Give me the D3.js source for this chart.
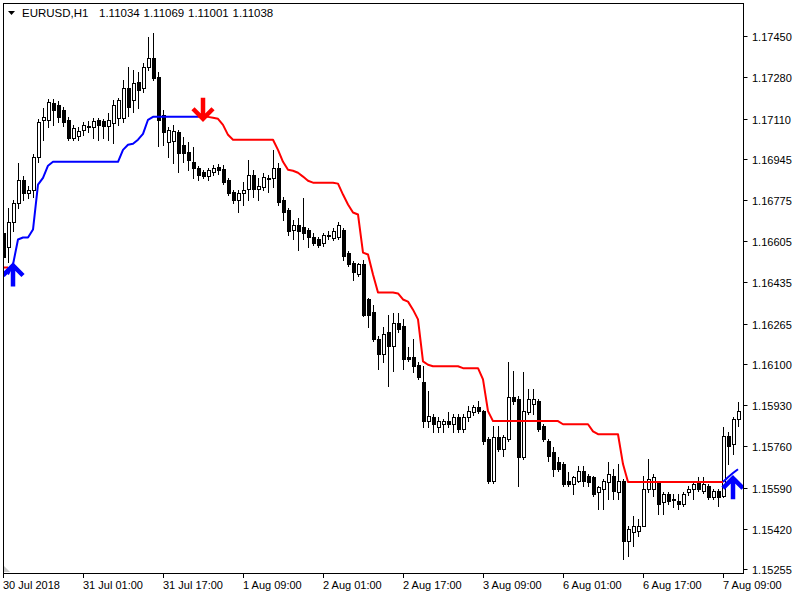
<!DOCTYPE html>
<html>
<head>
<meta charset="utf-8">
<script src="https://cdn.jsdelivr.net/npm/d3@7"></script>
<style>
  body { margin: 0; background: #fff; }
  svg { display: block; }
  text { font-family: "Liberation Sans", Arial, sans-serif; fill: #000; }
</style>
</head>
<body>
<div id="chart"></div>
<script>
// header of the chart window
const symbolName = "EURUSD,H1";
const headerPrices = ["1.11034", "1.11069", "1.11001", "1.11038"];

// hourly candles, one entry per bar (bar 0 = 30 Jul 2018)
const opens = [
  1.16640,1.16583,1.16682,1.16764,1.16858,1.16805,1.16817,1.16953,1.17105,1.17105,
  1.17175,1.17166,1.17146,1.17105,1.17031,1.17039,1.17064,1.17076,1.17076,1.17105,
  1.17101,1.17080,1.17093,1.17113,1.17113,1.17236,1.17187,1.17261,1.17236,1.17323,
  1.17360,1.17282,1.17125,1.17014,1.17018,1.17055,1.17002,1.16973,1.16932,1.16908,
  1.16891,1.16875,1.16891,1.16912,1.16903,1.16858,1.16809,1.16776,1.16805,1.16821,
  1.16879,1.16821,1.16830,1.16866,1.16866,1.16908,1.16776,1.16735,1.16653,1.16673,
  1.16665,1.16653,1.16624,1.16612,1.16599,1.16628,1.16620,1.16624,1.16653,1.16558,
  1.16517,1.16468,1.16509,1.16365,1.16315,1.16201,1.16139,1.16229,1.16172,1.16270,
  1.16254,1.16127,1.16127,1.16096,1.16024,1.15864,1.15880,1.15839,1.15851,1.15864,
  1.15851,1.15880,1.15831,1.15880,1.15901,1.15921,1.15905,1.15790,1.15617,1.15798,
  1.15749,1.15790,1.15962,1.15954,1.15716,1.15901,1.15933,1.15946,1.15843,1.15782,
  1.15736,1.15695,1.15687,1.15617,1.15604,1.15617,1.15658,1.15638,1.15633,1.15572,
  1.15584,1.15613,1.15638,1.15572,1.15617,1.15370,1.15407,1.15413,1.15432,1.15584,
  1.15584,1.15613,1.15531,1.15564,1.15543,1.15535,1.15522,1.15572,1.15584,1.15613,
  1.15576,1.15596,1.15551,1.15576,1.15555,1.15802,1.15769,1.15872
];
const highs = [
  1.16653,1.16743,1.16776,1.16928,1.16875,1.16834,1.16965,1.17109,1.17154,1.17191,
  1.17191,1.17183,1.17158,1.17117,1.17084,1.17076,1.17097,1.17101,1.17113,1.17113,
  1.17109,1.17134,1.17187,1.17195,1.17269,1.17323,1.17310,1.17302,1.17339,1.17446,
  1.17462,1.17302,1.17146,1.17076,1.17084,1.17064,1.17035,1.17014,1.16994,1.16916,
  1.16899,1.16908,1.16920,1.16924,1.16920,1.16866,1.16817,1.16817,1.16850,1.16940,
  1.16899,1.16866,1.16887,1.16879,1.16981,1.16928,1.16788,1.16743,1.16694,1.16702,
  1.16784,1.16661,1.16640,1.16624,1.16640,1.16645,1.16661,1.16682,1.16661,1.16566,
  1.16525,1.16517,1.16529,1.16373,1.16344,1.16213,1.16250,1.16303,1.16311,1.16311,
  1.16283,1.16168,1.16201,1.16106,1.16090,1.15987,1.15892,1.15880,1.15872,1.15901,
  1.15892,1.15892,1.15892,1.15925,1.15929,1.15946,1.15909,1.15798,1.15843,1.15843,
  1.15806,1.16106,1.16069,1.15966,1.16065,1.15995,1.15995,1.15954,1.15851,1.15790,
  1.15757,1.15716,1.15695,1.15654,1.15638,1.15679,1.15679,1.15646,1.15638,1.15596,
  1.15625,1.15695,1.15666,1.15687,1.15625,1.15432,1.15473,1.15461,1.15638,1.15707,
  1.15646,1.15617,1.15572,1.15572,1.15564,1.15564,1.15572,1.15596,1.15613,1.15633,
  1.15633,1.15604,1.15584,1.15584,1.15839,1.15818,1.15880,1.15942
];
const lows = [
  1.16521,1.16521,1.16645,1.16743,1.16776,1.16784,1.16788,1.16932,1.17023,1.17076,
  1.17084,1.17097,1.17080,1.17023,1.17023,1.17023,1.17043,1.17055,1.17031,1.17023,
  1.17031,1.17023,1.17010,1.17084,1.17097,1.17121,1.17138,1.17154,1.17220,1.17310,
  1.17269,1.16998,1.17002,1.16953,1.16928,1.16891,1.16932,1.16899,1.16866,1.16858,
  1.16866,1.16858,1.16879,1.16883,1.16842,1.16797,1.16764,1.16727,1.16756,1.16776,
  1.16788,1.16776,1.16817,1.16809,1.16830,1.16756,1.16694,1.16632,1.16612,1.16570,
  1.16612,1.16583,1.16591,1.16583,1.16587,1.16612,1.16608,1.16612,1.16529,1.16501,
  1.16447,1.16460,1.16295,1.16250,1.16192,1.16077,1.16106,1.16007,1.16069,1.16229,
  1.16077,1.16110,1.16065,1.16036,1.15839,1.15839,1.15818,1.15818,1.15818,1.15839,
  1.15818,1.15818,1.15818,1.15864,1.15888,1.15897,1.15769,1.15609,1.15609,1.15740,
  1.15720,1.15782,1.15933,1.15596,1.15707,1.15892,1.15892,1.15822,1.15782,1.15699,
  1.15638,1.15658,1.15596,1.15596,1.15564,1.15613,1.15596,1.15596,1.15555,1.15502,
  1.15502,1.15543,1.15543,1.15543,1.15296,1.15309,1.15350,1.15391,1.15432,1.15572,
  1.15555,1.15481,1.15481,1.15522,1.15510,1.15502,1.15514,1.15559,1.15543,1.15576,
  1.15568,1.15543,1.15543,1.15514,1.15551,1.15687,1.15728,1.15843
];
const closes = [
  1.16538,1.16686,1.16764,1.16858,1.16805,1.16817,1.16953,1.17097,1.17117,1.17179,
  1.17146,1.17117,1.17097,1.17031,1.17072,1.17060,1.17084,1.17080,1.17101,1.17084,
  1.17080,1.17105,1.17166,1.17187,1.17236,1.17158,1.17257,1.17228,1.17323,1.17360,
  1.17277,1.17105,1.17055,1.17064,1.17060,1.16969,1.16969,1.16940,1.16908,1.16879,
  1.16875,1.16899,1.16908,1.16899,1.16850,1.16805,1.16776,1.16805,1.16817,1.16879,
  1.16821,1.16834,1.16871,1.16862,1.16908,1.16768,1.16727,1.16645,1.16673,1.16645,
  1.16640,1.16624,1.16599,1.16591,1.16632,1.16632,1.16645,1.16673,1.16542,1.16509,
  1.16478,1.16509,1.16303,1.16303,1.16201,1.16139,1.16221,1.16172,1.16270,1.16242,
  1.16118,1.16118,1.16090,1.16044,1.15864,1.15884,1.15851,1.15864,1.15864,1.15851,
  1.15880,1.15831,1.15880,1.15905,1.15921,1.15905,1.15782,1.15617,1.15798,1.15749,
  1.15798,1.15962,1.15946,1.15716,1.15905,1.15954,1.15954,1.15831,1.15790,1.15720,
  1.15666,1.15666,1.15604,1.15604,1.15633,1.15658,1.15617,1.15613,1.15564,1.15592,
  1.15617,1.15646,1.15576,1.15617,1.15370,1.15420,1.15432,1.15432,1.15584,1.15625,
  1.15633,1.15522,1.15564,1.15535,1.15539,1.15522,1.15564,1.15584,1.15604,1.15584,
  1.15604,1.15551,1.15576,1.15551,1.15802,1.15761,1.15872,1.15905
];

// trailing stop buffers (null = no value on that bar)
const upStop = [
  null,1.16468,1.16509,1.16612,1.16620,1.16620,1.16653,1.16838,1.16866,1.16916,
  1.16932,1.16932,1.16932,1.16932,1.16932,1.16932,1.16932,1.16932,1.16932,1.16932,
  1.16932,1.16932,1.16932,1.16932,1.16981,1.17002,1.17006,1.17023,1.17047,1.17105,
  1.17117,1.17117,1.17117,1.17117,1.17117,1.17117,1.17117,1.17117,1.17117,1.17117,
  null,null,null,null,null,null,null,null,null,null,
  null,null,null,null,null,null,null,null,null,null,
  null,null,null,null,null,null,null,null,null,null,
  null,null,null,null,null,null,null,null,null,null,
  null,null,null,null,null,null,null,null,null,null,
  null,null,null,null,null,null,null,null,null,null,
  null,null,null,null,null,null,null,null,null,null,
  null,null,null,null,null,null,null,null,null,null,
  null,null,null,null,null,null,null,null,null,null,
  null,null,null,null,null,null,null,null,null,null,
  null,null,null,null,1.15613,1.15633,1.15650,1.15666
];
const downStop = [
  1.16497,1.16497,null,null,null,null,null,null,null,null,
  null,null,null,null,null,null,null,null,null,null,
  null,null,null,null,null,null,null,null,null,null,
  null,null,null,null,null,null,null,null,null,1.17117,
  1.17117,1.17117,1.17113,1.17109,1.17084,1.17043,1.17023,1.17023,1.17023,1.17023,
  1.17023,1.17023,1.17023,1.17023,1.17023,1.16981,1.16932,1.16899,1.16895,1.16887,
  1.16871,1.16854,1.16846,1.16846,1.16846,1.16846,1.16846,1.16842,1.16797,1.16756,
  1.16723,1.16715,1.16558,1.16550,1.16468,1.16394,1.16394,1.16394,1.16394,1.16390,
  1.16365,1.16356,1.16323,1.16283,1.16110,1.16096,1.16090,1.16090,1.16090,1.16090,
  1.16090,1.16090,1.16082,1.16082,1.16082,1.16082,1.16036,1.15905,1.15864,1.15864,
  1.15864,1.15864,1.15864,1.15864,1.15864,1.15864,1.15864,1.15864,1.15864,1.15864,
  1.15864,1.15864,1.15851,1.15851,1.15851,1.15851,1.15851,1.15851,1.15822,1.15810,
  1.15810,1.15810,1.15810,1.15810,1.15687,1.15613,1.15613,1.15613,1.15613,1.15613,
  1.15613,1.15613,1.15613,1.15613,1.15613,1.15613,1.15613,1.15613,1.15613,1.15613,
  1.15613,1.15613,1.15613,1.15613,1.15613,null,null,null
];

// trend change arrows
const arrowBars = [2, 40, 146];
const arrowPrices = [1.16509, 1.17105, 1.15633];
const arrowDirs = ["up", "down", "up"];

// axes
const priceTicks = ["1.17450","1.17280","1.17110","1.16945","1.16775","1.16605","1.16435",
  "1.16265","1.16100","1.15930","1.15760","1.15590","1.15420","1.15255"];
const timeTickBars = [0, 16, 32, 48, 64, 80, 96, 112, 128, 144];
const timeTickLabels = ["30 Jul 2018","31 Jul 01:00","31 Jul 17:00","1 Aug 09:00","2 Aug 01:00",
  "2 Aug 17:00","3 Aug 09:00","6 Aug 01:00","6 Aug 17:00","7 Aug 09:00"];

const width = 800;
const height = 600;
const frame = { left: 3, top: 3, right: 743, bottom: 573 };

const svg = d3
  .select("#chart")
  .append("svg")
  .attr("width", width)
  .attr("height", height);

svg.append("rect").attr("width", width).attr("height", height).attr("fill", "#fff");

const x = d3.scaleLinear().domain([0, opens.length - 1]).range([3, 738]);
const y = d3
  .scaleLinear()
  .domain([+priceTicks[priceTicks.length - 1], +priceTicks[0]])
  .range([569, 36]);

svg
  .append("clipPath")
  .attr("id", "plot-clip")
  .append("rect")
  .attr("x", frame.left + 1)
  .attr("y", frame.top + 1)
  .attr("width", frame.right - frame.left - 1)
  .attr("height", frame.bottom - frame.top - 1);

const plot = svg.append("g").attr("clip-path", "url(#plot-clip)");

// candles
const bars = d3.range(opens.length);
const px = (i) => Math.round(x(i));
const py = (v) => Math.round(y(v));

const candles = plot
  .append("g")
  .attr("shape-rendering", "crispEdges")
  .selectAll("g")
  .data(bars)
  .join("g");

candles
  .append("line")
  .attr("x1", (i) => px(i) + 0.5)
  .attr("x2", (i) => px(i) + 0.5)
  .attr("y1", (i) => py(highs[i]))
  .attr("y2", (i) => py(lows[i]) + 1)
  .attr("stroke", "#000");

candles
  .append("rect")
  .attr("x", (i) => px(i) - 0.5)
  .attr("width", 3)
  .attr("y", (i) => py(Math.max(opens[i], closes[i])) + 0.5)
  .attr("height", (i) =>
    Math.max(1, py(Math.min(opens[i], closes[i])) - py(Math.max(opens[i], closes[i])))
  )
  .attr("fill", (i) => (closes[i] >= opens[i] ? "#fff" : "#000"))
  .attr("stroke", "#000");

// trailing stop lines
const stopLine = d3
  .line()
  .defined((d) => d != null)
  .x((d, i) => x(i))
  .y((d) => y(d));

plot
  .append("path")
  .attr("d", stopLine(downStop))
  .attr("fill", "none")
  .attr("stroke", "#ff0000")
  .attr("stroke-width", 2)
  .attr("stroke-linejoin", "round");

plot
  .append("path")
  .attr("d", stopLine(upStop))
  .attr("fill", "none")
  .attr("stroke", "#0000ff")
  .attr("stroke-width", 2)
  .attr("stroke-linejoin", "round");

// arrows: chevron head at the price, shaft pointing away from it
const arrowPath = (i) => {
  const cx = x(arrowBars[i]);
  const ty = y(arrowPrices[i]);
  const s = arrowDirs[i] === "up" ? 1 : -1;
  return `M${cx - 10},${ty + s * 11}L${cx},${ty + s * 1}L${cx + 10},${ty + s * 11}` +
    `M${cx},${ty + s * 2}L${cx},${ty + s * 22}`;
};

plot
  .append("g")
  .selectAll("path")
  .data(arrowBars.map((d, i) => i))
  .join("path")
  .attr("d", arrowPath)
  .attr("fill", "none")
  .attr("stroke", (i) => (arrowDirs[i] === "up" ? "#0000ff" : "#ff0000"))
  .attr("stroke-width", 4.5)
  .attr("stroke-linejoin", "miter");

// shift marker in the lower left corner
svg
  .append("path")
  .attr("d", `M${frame.left + 1},${frame.bottom - 7}L${frame.left + 1},${frame.bottom - 1}L${frame.left + 7},${frame.bottom - 1}Z`)
  .attr("fill", "#c8c8c8");

// frame
svg
  .append("rect")
  .attr("x", frame.left + 0.5)
  .attr("y", frame.top + 0.5)
  .attr("width", frame.right - frame.left)
  .attr("height", frame.bottom - frame.top)
  .attr("fill", "none")
  .attr("stroke", "#000");

// price axis
const yAxis = svg.append("g").attr("font-size", 11);
yAxis
  .selectAll("line")
  .data(priceTicks)
  .join("line")
  .attr("x1", frame.right + 0.5)
  .attr("x2", frame.right + 4.5)
  .attr("y1", (d) => py(+d) + 0.5)
  .attr("y2", (d) => py(+d) + 0.5)
  .attr("stroke", "#000");
yAxis
  .selectAll("text")
  .data(priceTicks)
  .join("text")
  .attr("x", frame.right + 9)
  .attr("y", (d) => py(+d) + 4.5)
  .text((d) => d);

// time axis
const xAxis = svg.append("g").attr("font-size", 11);
xAxis
  .selectAll("line")
  .data(timeTickBars)
  .join("line")
  .attr("x1", (d) => px(d) + 0.5)
  .attr("x2", (d) => px(d) + 0.5)
  .attr("y1", frame.bottom)
  .attr("y2", frame.bottom + 5)
  .attr("stroke", "#000");
xAxis
  .selectAll("text")
  .data(timeTickBars)
  .join("text")
  .attr("x", (d) => px(d))
  .attr("y", 589)
  .text((d, i) => timeTickLabels[i]);

// header
svg
  .append("path")
  .attr("d", "M8,11L15,11L11.5,15Z")
  .attr("fill", "#000");
svg
  .append("text")
  .attr("x", 22)
  .attr("y", 17)
  .attr("font-size", 11.5)
  .text(symbolName);
svg
  .append("g")
  .attr("font-size", 11.5)
  .selectAll("text")
  .data(headerPrices)
  .join("text")
  .attr("x", (d, i) => 99 + i * 44.5)
  .attr("y", 17)
  .text((d) => d);
</script>
</body>
</html>
